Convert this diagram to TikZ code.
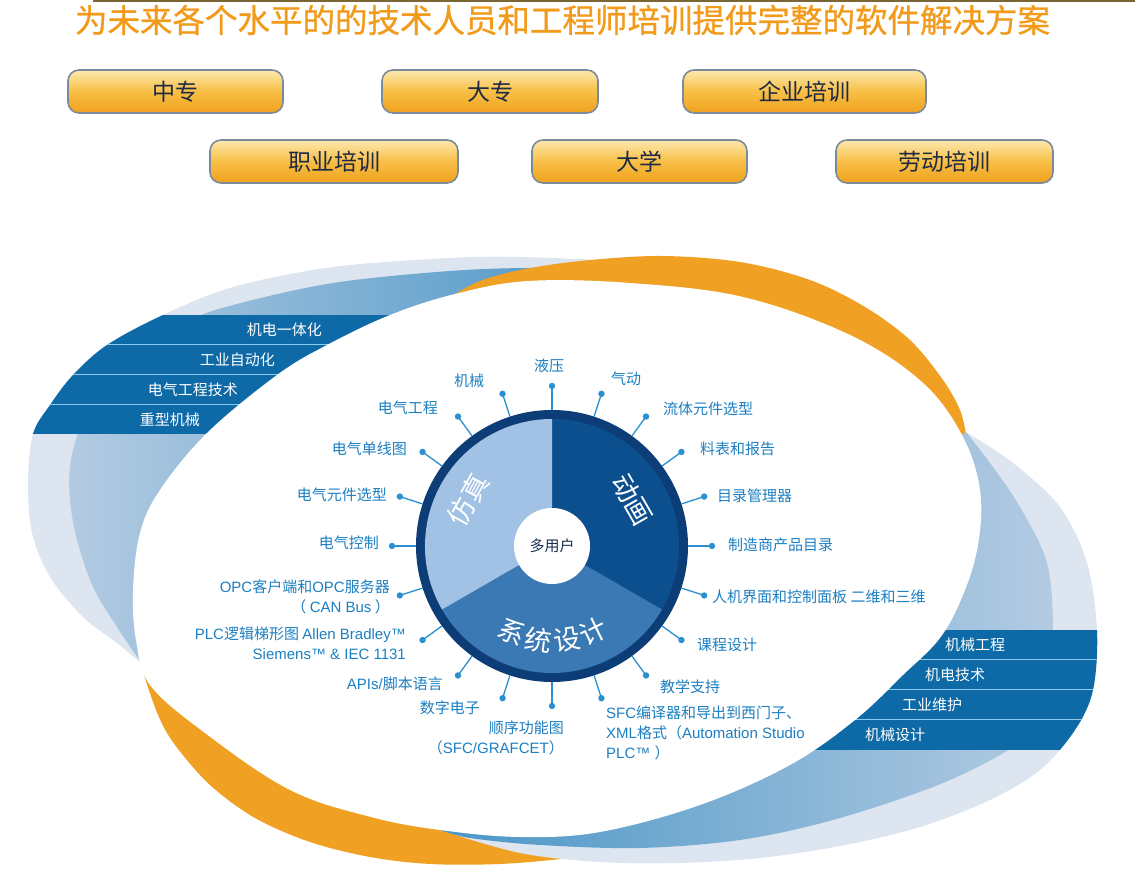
\documentclass[tikz,border=0pt]{standalone}
\usepackage{fontspec}
\setmainfont{Noto Sans CJK SC}
\newfontfamily\lat{Liberation Sans}
\newfontfamily\ttlfont[FakeBold=0.8]{Noto Sans CJK SC}
\usetikzlibrary{positioning}

\definecolor{orangeC}{HTML}{F0A124}
\definecolor{titleO}{HTML}{F29A1A}
\definecolor{paleB}{HTML}{DCE5F0}
\definecolor{medL}{HTML}{B3CBE2}
\definecolor{medD}{HTML}{4B96C6}
\definecolor{bandB}{HTML}{0E6AA7}
\definecolor{sepL}{HTML}{8FCBEF}
\definecolor{ringB}{HTML}{0D3D77}
\definecolor{sAnim}{HTML}{0C4F8F}
\definecolor{sSys}{HTML}{3B79B4}
\definecolor{sSim}{HTML}{A1C1E5}
\definecolor{spokeB}{HTML}{2A90D0}
\definecolor{lblB}{HTML}{1C7FC2}
\definecolor{hubT}{HTML}{1D2F50}
\definecolor{btnLine}{HTML}{7C8B9B}
\definecolor{btnText}{HTML}{1E2A44}
\definecolor{btnTop}{HTML}{FDE8B0}
\definecolor{btnMid}{HTML}{F7BF45}
\definecolor{btnBot}{HTML}{F0A11E}
\definecolor{topLine}{HTML}{7A6535}

% contours des croissants (coordonnees en pixels, y vers le haut)
\def\paleTL{plot[smooth, tension=0.55] coordinates {(142,205) (117,226) (83,252) (50,292) (32,336) (28,386) (33,435) (50,464) (73,494) (107,524) (163,554) (233,582) (333,602) (450,611) (520,612) (620,608)} -- (600,450) -- (300,300) -- cycle}
\def\medTL{plot[smooth, tension=0.55] coordinates {(142,205) (117,242) (93,282) (77,329) (70,369) (70,402) (78,436) (95,469) (130,509) (187,547) (233,564) (333,586) (450,598) (540,601) (620,597)} -- (600,450) -- (300,300) -- cycle}
\def\paleBR{plot[smooth, tension=0.55] coordinates {(440,39) (520,16) (600,7) (680,6) (760,11) (840,23) (920,42) (990,69) (1040,99) (1075,139) (1093,179) (1097,239) (1087,306) (1060,362) (1013,406) (966,437)} -- (800,300) -- (600,150) -- cycle}
\def\medBR{plot[smooth, tension=0.55] coordinates {(440,39) (470,31) (540,24) (640,21) (740,29) (833,49) (933,82) (1000,114) (1030,139) (1048,179) (1053,239) (1047,306) (1020,362) (990,406) (966,437)} -- (800,300) -- (600,150) -- cycle}

\begin{document}
\begin{tikzpicture}[
    x=1pt, y=1pt,
    font=\fontsize{15}{20}\selectfont,
    btn/.style={draw=btnLine, line width=1.6pt, rounded corners=11pt,
        top color=btnTop, bottom color=btnBot, middle color=btnMid,
        minimum height=43pt, inner sep=0pt, text=btnText,
        font=\fontsize{23}{26}\selectfont},
    lbl/.style={text=lblB, inner sep=0pt},
    bandtxt/.style={text=white, inner sep=0pt},
    spoke/.style={spokeB, line width=1.3pt},
    sector/.style={text=white, inner sep=0pt, font=\fontsize{27}{30}\selectfont}
]
\useasboundingbox (0,0) rectangle (1135,869);

% =========================================================================
% 1. FOND : croissants bleus et orange autour de la zone blanche
% =========================================================================
\fill[paleB] \paleTL;
\path[left color=medL, right color=medD] \medTL;

% Bandes du haut a gauche
\begin{scope}
    \clip \paleTL;
    \fill[bandB] (0,435) rectangle (620,554);
    \foreach \y in {464,494,524}
        \draw[sepL, line width=1pt] (0,\y) -- (620,\y);
\end{scope}

% Arc orange (haut et bas)
\fill[orangeC] plot[smooth, tension=0.55] coordinates {(455,575) (480,588) (520,599) (580,608) (660,613) (740,607) (810,589) (865,562) (910,529) (943,489) (960,459) (966,435)} -- (800,400) -- (500,450) -- cycle;
\fill[orangeC] plot[smooth, tension=0.55] coordinates {(143,197) (158,154) (175,124) (210,84) (255,51) (310,27) (370,12) (430,5) (500,5) (570,11) (640,21)} -- (600,150) -- (300,200) -- cycle;

% Croissant bleu du bas a droite
\fill[paleB] \paleBR;
\path[left color=medD, right color=medL] \medBR;
\begin{scope}
    \clip \paleBR;
    \fill[bandB] (700,119) rectangle (1135,239);
    \foreach \y in {149,179,209}
        \draw[sepL, line width=1pt] (700,\y) -- (1135,\y);
\end{scope}

% Zone blanche centrale
\fill[white] plot[smooth cycle, tension=0.6] coordinates {
    (528,588) (630,586) (743,572) (850,534) (922,487) (962,434)
    (980,379) (978,324) (963,274) (940,231) (903,194) (855,149)
    (790,104) (700,64) (600,37) (520,32) (440,39) (371,52) (290,79)
    (205,136) (150,184) (136,229) (133,279) (140,336) (160,379)
    (207,436) (277,494) (327,524) (390,554) (455,575)};

% Textes des bandes
\node[bandtxt, anchor=east] (b1) at (322,539) {机电一体化};
\node[bandtxt, anchor=east] (b2) at (275,509) {工业自动化};
\node[bandtxt, anchor=east] (b3) at (238,479) {电气工程技术};
\node[bandtxt, anchor=east] (b4) at (200,449) {重型机械};
\node[bandtxt, anchor=west] (b5) at (945,224) {机械工程};
\node[bandtxt, anchor=west] (b6) at (925,194) {机电技术};
\node[bandtxt, anchor=west] (b7) at (902,164) {工业维护};
\node[bandtxt, anchor=west] (b8) at (865,134) {机械设计};

% =========================================================================
% 2. ROUE CENTRALE
% =========================================================================
\coordinate (hub) at (552,323);
\fill[ringB] (hub) circle (136);
\fill[sAnim] (hub) -- ++(90:127) arc[start angle=90, end angle=-30, radius=127] -- cycle;
\fill[sSys] (hub) -- ++(-30:127) arc[start angle=-30, end angle=-150, radius=127] -- cycle;
\fill[sSim] (hub) -- ++(210:127) arc[start angle=210, end angle=90, radius=127] -- cycle;
\node[circle, fill=white, minimum size=76pt, inner sep=0pt, text=hubT] (mu) at (hub) {多用户};

% Secteurs
\node[sector, rotate=61] (sim) at ([shift={(151:96)}]hub) {仿真};
\node[sector, rotate=-60] (anim) at ([shift={(30:93)}]hub) {动画};
\foreach \c [count=\i from 0] in {系,统,设,计} {
    \pgfmathsetmacro{\t}{245+17*\i}
    \node[sector, rotate=\t-270] (sys\i) at ([shift={(\t:95)}]hub) {\c};
}

% Rayons avec points
\foreach \k in {0,...,19} {
    \pgfmathsetmacro{\a}{90-18*\k}
    \coordinate (s\k) at ([shift={(\a:136)}]hub);
    \coordinate (d\k) at ([shift={(\a:160)}]hub);
    \draw[spoke] (s\k) -- (d\k);
    \fill[spokeB] (d\k) circle (3.2);
}

% Etiquettes autour de la roue
\node[lbl] (l0) at (549,503) {液压};
\node[lbl] (l1) at (626,490) {气动};
\node[lbl, anchor=west] (l2) at (663,460) {流体元件选型};
\node[lbl, anchor=west] (l3) at (700,420) {料表和报告};
\node[lbl, anchor=west] (l4) at (717,373) {目录管理器};
\node[lbl, anchor=west] (l5) at (728,324) {制造商产品目录};
\node[lbl, anchor=west] (l6) at (712,272) {人机界面和控制面板 二维和三维};
\node[lbl, anchor=west] (l7) at (697,224) {课程设计};
\node[lbl, anchor=west] (l8) at (660,182) {教学支持};
\node[lbl, anchor=north west, align=left] (l9) at (606,163)
    {{\lat SFC}编译器和导出到西门子、\\{\lat XML}格式（{\lat Automation Studio}\\{\lat PLC™ }）};
\node[lbl, anchor=north east, align=right] (l10) at (564,148)
    {顺序功能图\\（{\lat SFC/GRAFCET}）};
\node[lbl, anchor=east] (l11) at (480,161) {数字电子};
\node[lbl, anchor=east] (l12) at (443,185) {{\lat APIs/}脚本语言};
\node[lbl, anchor=east, align=right] (l13) at (406,226)
    {{\lat PLC}逻辑梯形图 {\lat Allen Bradley™}\\{\lat Siemens™ \& IEC 1131}};
\node[lbl, anchor=east, align=right] (l14) at (390,272)
    {{\lat OPC}客户端和{\lat OPC}服务器\\（ {\lat CAN Bus} ）};
\node[lbl, anchor=east] (l15) at (379,326) {电气控制};
\node[lbl, anchor=east] (l16) at (387,374) {电气元件选型};
\node[lbl, anchor=east] (l17) at (407,420) {电气单线图};
\node[lbl, anchor=east] (l18) at (438,461) {电气工程};
\node[lbl] (l19) at (469,488) {机械};

% =========================================================================
% 3. TITRE ET BOUTONS
% =========================================================================
\fill[topLine] (93,866.5) rectangle (1135,869);
\node[text=titleO, inner sep=0pt, font=\ttlfont\fontsize{32.5}{34}\selectfont] (ttl) at (562.5,849)
    {为未来各个水平的的技术人员和工程师培训提供完整的软件解决方案};

\node[btn, minimum width=215pt] (zz) at (175.5,777.5) {中专};
\node[btn, minimum width=216pt] (dz) at (490,777.5) {大专};
\node[btn, minimum width=243pt] (qy) at (804.5,777.5) {企业培训};
\node[btn, minimum width=248pt] (zy) at (334,707.5) {职业培训};
\node[btn, minimum width=215pt] (dx) at (639.5,707.5) {大学};
\node[btn, minimum width=217pt] (ld) at (944.5,707.5) {劳动培训};

\end{tikzpicture}
\end{document}
